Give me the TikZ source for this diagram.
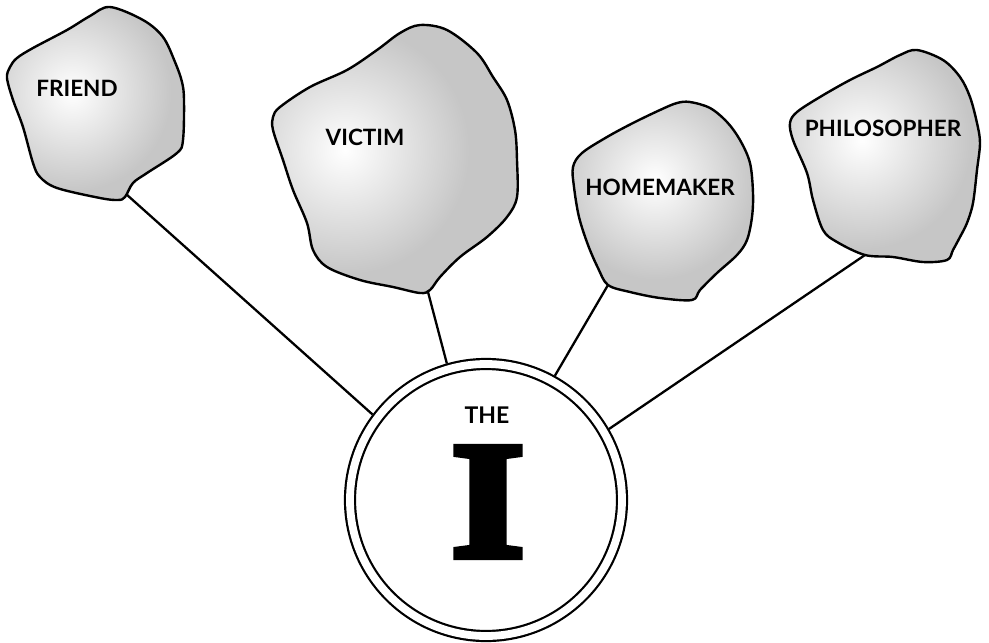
\documentclass[tikz,border=0pt]{standalone}
\usepackage{fontspec}
\setmainfont{Lato}
\newfontfamily\Ifont[FakeStretch=1.16,FakeBold=4.5]{Liberation Serif}
\begin{document}
\begin{tikzpicture}[x=1pt,y=-1pt,
  blobline/.style={line width=2.4pt, line join=round},
  link/.style={line width=2.3pt},
  lab/.style={font=\fontsize{22.5}{22.5}\selectfont\bfseries, inner sep=0pt},
]
\useasboundingbox (0,0) rectangle (989,643);

\def\blobF{plot[smooth cycle, tension=0.55] coordinates {(110,7) (143,20) (163,37) (175,62) (182,82) (184,100) (183,140) (177,153) (147,173) (133,183) (125,197) (118,200) (100,198) (57,188) (40,177) (33,163) (23,127) (13,100) (7,78) (10,67) (17,58) (33,48) (67,30) (90,16)}}
\def\blobV{plot[smooth cycle, tension=0.55] coordinates {(420,25) (447,30) (477,53) (493,77) (507,100) (515,130) (517,160) (517,197) (507,217) (487,237) (460,257) (440,277) (430,290) (420,293) (393,287) (360,280) (327,267) (313,250) (307,223) (293,190) (283,160) (273,130) (273,117) (280,107) (310,87) (347,70) (377,50) (400,33)}}
\def\blobH{plot[smooth cycle, tension=0.55] coordinates {(677,103) (690,102) (710,108) (727,122) (740,140) (750,163) (753,193) (752,217) (747,240) (737,255) (717,273) (700,290) (692,300) (660,298) (630,292) (608,285) (598,268) (588,245) (579,217) (574,187) (573,167) (582,153) (607,137) (633,123) (660,110)}}
\def\blobP{plot[smooth cycle, tension=0.55] coordinates {(917,50) (943,60) (960,77) (970,97) (977,123) (980,143) (977,170) (973,203) (967,223) (960,237) (953,250) (947,260) (923,262) (893,257) (865,255) (837,242) (823,230) (813,200) (807,173) (793,140) (790,123) (797,112) (820,97) (850,80) (877,67) (900,55)}}

% shaded blobs
\begin{scope}
  \clip \blobF;
  \fill[gray!45] (0,0) rectangle (200,210);
  \shade[inner color=white, outer color=gray!45] (72,92) circle (100pt);
\end{scope}
\draw[blobline] \blobF;
\begin{scope}
  \clip \blobV;
  \fill[gray!45] (260,15) rectangle (530,300);
  \shade[inner color=white, outer color=gray!45] (345,150) circle (125pt);
\end{scope}
\draw[blobline] \blobV;
\begin{scope}
  \clip \blobH;
  \fill[gray!45] (560,90) rectangle (760,310);
  \shade[inner color=white, outer color=gray!45] (655,180) circle (100pt);
\end{scope}
\draw[blobline] \blobH;
\begin{scope}
  \clip \blobP;
  \fill[gray!45] (780,40) rectangle (990,270);
  \shade[inner color=white, outer color=gray!45] (862,140) circle (110pt);
\end{scope}
\draw[blobline] \blobP;

% labels
\node[lab] (friend) at (77,88) {FRIEND};
\node[lab] (victim) at (365,137) {VICTIM};
\node[lab] (home) at (660,187) {HOMEMAKER};
\node[lab] (philo) at (883,128) {PHILOSOPHER};

% attachment points on blobs
\coordinate (cF) at (126,194);
\coordinate (cV) at (428,292);
\coordinate (cH) at (608,285);
\coordinate (cP) at (865,255);

% central circle
\node[draw, circle, double, line width=2.2pt, double distance=7.8pt,
      minimum size=272pt, inner sep=0pt, outer sep=6pt] (self) at (486,500) {};
\node[inner sep=0pt, font=\fontsize{23}{23}\selectfont\bfseries] (the) at (487,415) {THE};
\node[inner sep=0pt] (bigI) at (488,502) {\Ifont\bfseries\fontsize{166}{166}\selectfont I};

% connectors
\draw[link] (cF) -- (self.143.3);
\draw[link] (cV) -- (self.106.9);
\draw[link] (cH) -- (self.61.8);
\draw[link] (cP) -- (self.30.9);
\end{tikzpicture}
\end{document}
